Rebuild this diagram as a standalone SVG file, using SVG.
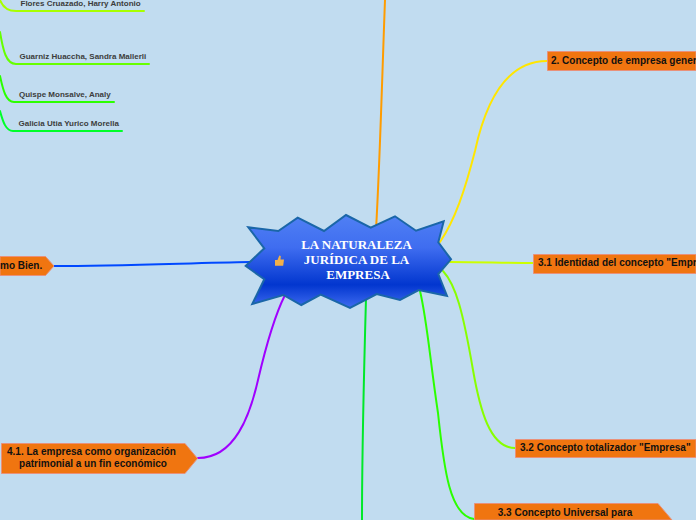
<svg xmlns="http://www.w3.org/2000/svg" width="696" height="520" viewBox="0 0 696 520">
<style>
.c{fill:none;stroke-width:2;stroke-linecap:round}
.n{fill:#f07510;stroke:#e9917a;stroke-width:1}
.t{font-family:"Liberation Sans",Arial,sans-serif;font-weight:700;font-size:10px;fill:#111;text-anchor:middle}
.l{text-anchor:start}
.s{font-family:"Liberation Sans",Arial,sans-serif;font-weight:700;font-size:8px;fill:#3c3c3c}
.h{font-family:"Liberation Serif","Times New Roman",serif;font-weight:700;font-size:13px;fill:#fff;text-anchor:middle}
</style>
<defs>
<linearGradient id="g" x1="0" y1="0" x2="0" y2="1">
<stop offset="0" stop-color="#5080f4"/>
<stop offset="0.35" stop-color="#3f6df0"/>
<stop offset="0.75" stop-color="#0236cf"/>
<stop offset="1" stop-color="#3f6cf0"/>
</linearGradient>
</defs>
<rect width="696" height="520" fill="#c1dcf0"/>
<g id="connectors">
<path class="c" stroke="#ff9c00" d="M385 0C382 80 380 160 376 230"/>
<path class="c" stroke="#ffe600" d="M440 242C455 220 465 190 475 151C485 105 505 61 547 61"/>
<path class="c" stroke="#ccff00" d="M450 262C480 262 505 263 534 263"/>
<path class="c" stroke="#88ff00" d="M443 271C456 285 463 312 473 370C480 410 490 448 515 448"/>
<path class="c" stroke="#2cff00" d="M420 291C427 320 430 360 438 413C444 470 450 516 474 519"/>
<path class="c" stroke="#00e82a" d="M366 298C364 370 362 450 362 520"/>
<path class="c" stroke="#a000ff" d="M285 295C275 315 265 350 258 380C250 415 235 458 198 458"/>
<path class="c" stroke="#0048ff" d="M54 266C120 266 190 263 250 262"/>
<path class="c" stroke="#a8ff00" d="M0 0C3 8 8 11 16 11H144"/>
<path class="c" stroke="#66ff00" d="M0 32C3 50 6 64 16 64H149"/>
<path class="c" stroke="#2cff00" d="M0 76C3 90 6 102 14 102H114"/>
<path class="c" stroke="#00ff2a" d="M0 111C3 122 6 131 13 131H122"/>
</g>
<g id="root">
<polygon fill="url(#g)" stroke="#1a66a8" stroke-width="2" points="248.300,227.300 278.300,231 297.700,217.700 324,231 346,215 370.700,227.700 395,216.300 416,230.700 443.700,221.300 438.300,242.300 451,259.300 438.300,274 447,296 418.700,290 400,300 376.700,294 350,308 320.700,294.700 301.300,305 283.300,295 252.300,304 264.300,279.300 245.700,266 264.300,248.300"/>
<text class="h" x="356.500" y="249">LA NATURALEZA</text>
<text class="h" x="356.500" y="264">JURÍDICA DE LA</text>
<text class="h" x="358" y="279">EMPRESA</text>
<path fill="#f2b04a" d="M275 260h2.500l1.800-4.500 1.500.4-.3 3.600h3.500l-.8 6.300h-8.200z"/>
</g>
<g id="n1"><path class="n" d="M547.500 51.500H696V70.500H547.500Z"/><text class="t l" x="551" y="64">2. Concepto de empresa gener</text></g>
<g id="n2"><path class="n" d="M533.500 254.500H696V273.500H533.500Z"/><text class="t l" x="538" y="266">3.1 Identidad del concepto "Empr</text></g>
<g id="n3"><path class="n" d="M515.500 439.500H696V457.500H515.500Z"/><text class="t l" x="520" y="451">3.2 Concepto totalizador "Empresa"</text></g>
<g id="n4"><path class="n" d="M474.500 503.500H658L672 520H474.500Z"/><text class="t" x="565" y="516">3.3 Concepto Universal para</text></g>
<g id="n5"><path class="n" d="M1.500 443.500H185L197.500 458.500L185 473.500H1.500Z"/><text class="t" x="91.500" y="455">4.1. La empresa como organización</text><text class="t" x="93" y="467">patrimonial a un fin económico</text></g>
<g id="n6"><path class="n" d="M0 256.500H45.500L54 266L45.500 275.500H0Z"/><text class="t l" x="0" y="269">mo Bien.</text></g>
<g id="s1"><text class="s" x="20.500" y="6">Flores Cruazado, Harry Antonio</text></g>
<g id="s2"><text class="s" x="19.500" y="59">Guarniz Huaccha, Sandra Mallerli</text></g>
<g id="s3"><text class="s" x="19" y="97">Quispe Monsalve, Analy</text></g>
<g id="s4"><text class="s" x="18.500" y="126">Galicia Utia Yurico Morella</text></g>
</svg>
